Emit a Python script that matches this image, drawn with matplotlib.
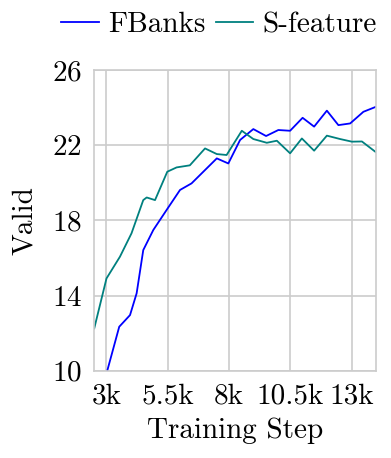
import matplotlib
matplotlib.use('Agg')
import matplotlib.pyplot as plt

plt.rcParams['font.family'] = ['cmr10', 'DejaVu Serif']
plt.rcParams['axes.formatter.use_mathtext'] = True
plt.rcParams['font.size'] = 21

# training step (thousands) and validation score
fb_step = [3.04, 3.52, 3.96, 4.23, 4.5, 4.91, 5.45, 6.0, 6.47, 6.95, 7.5, 7.97,
           8.45, 8.99, 9.51, 10.01, 10.49, 11.0, 11.47, 11.99, 12.46, 12.94, 13.48, 14.0]
fb_valid = [10.04, 12.34, 12.96, 14.12, 16.42, 17.49, 18.55, 19.62, 19.97, 20.59, 21.3, 21.03,
            22.28, 22.86, 22.49, 22.81, 22.77, 23.46, 22.99, 23.84, 23.07, 23.16, 23.78, 24.05]

sf_step = [2.5, 3.0, 3.55, 4.02, 4.5, 4.64, 4.98, 5.48, 5.86, 6.4, 7.02, 7.5, 7.9,
           8.52, 8.99, 9.54, 9.95, 10.49, 10.97, 11.47, 11.99, 12.53, 13.01, 13.42, 14.0]
sf_valid = [12.25, 14.91, 16.07, 17.31, 19.08, 19.22, 19.08, 20.59, 20.82, 20.93, 21.83, 21.53, 21.48,
            22.77, 22.33, 22.13, 22.24, 21.57, 22.36, 21.71, 22.51, 22.33, 22.19, 22.2, 21.62]

x_ticks = [3, 5.5, 8, 10.5, 13]
x_labels = ['3k', '5.5k', '8k', '10.5k', '13k']
y_ticks = [10, 14, 18, 22, 26]

fig = plt.figure(figsize=(3.91, 4.58), dpi=100)
ax = fig.add_axes([0.241, 0.1906, 0.721, 0.6564])

ax.plot(fb_step, fb_valid, color='#0000ff', linewidth=1.3, label='FBanks')
ax.plot(sf_step, sf_valid, color='#00807f', linewidth=1.3, label='S-feature')

ax.set_xlim(2.5, 14)
ax.set_ylim(10, 26)
ax.set_xticks(x_ticks)
ax.set_xticklabels(x_labels)
ax.set_yticks(y_ticks)
ax.grid(True, color='#cccccc', linewidth=1.2)
ax.set_axisbelow(True)
for s in ax.spines.values():
    s.set_color('#cccccc')
    s.set_linewidth(1.2)
ax.tick_params(length=0, pad=9)
ax.set_xlabel('Training Step', labelpad=6)
ax.set_ylabel('Valid', labelpad=10)

fig.legend(loc='center', bbox_to_anchor=(0.56, 0.945), ncol=2, frameon=False,
           handlelength=1.3, handletextpad=0.3, columnspacing=0.35)

fig.savefig('out.png', dpi=100)
